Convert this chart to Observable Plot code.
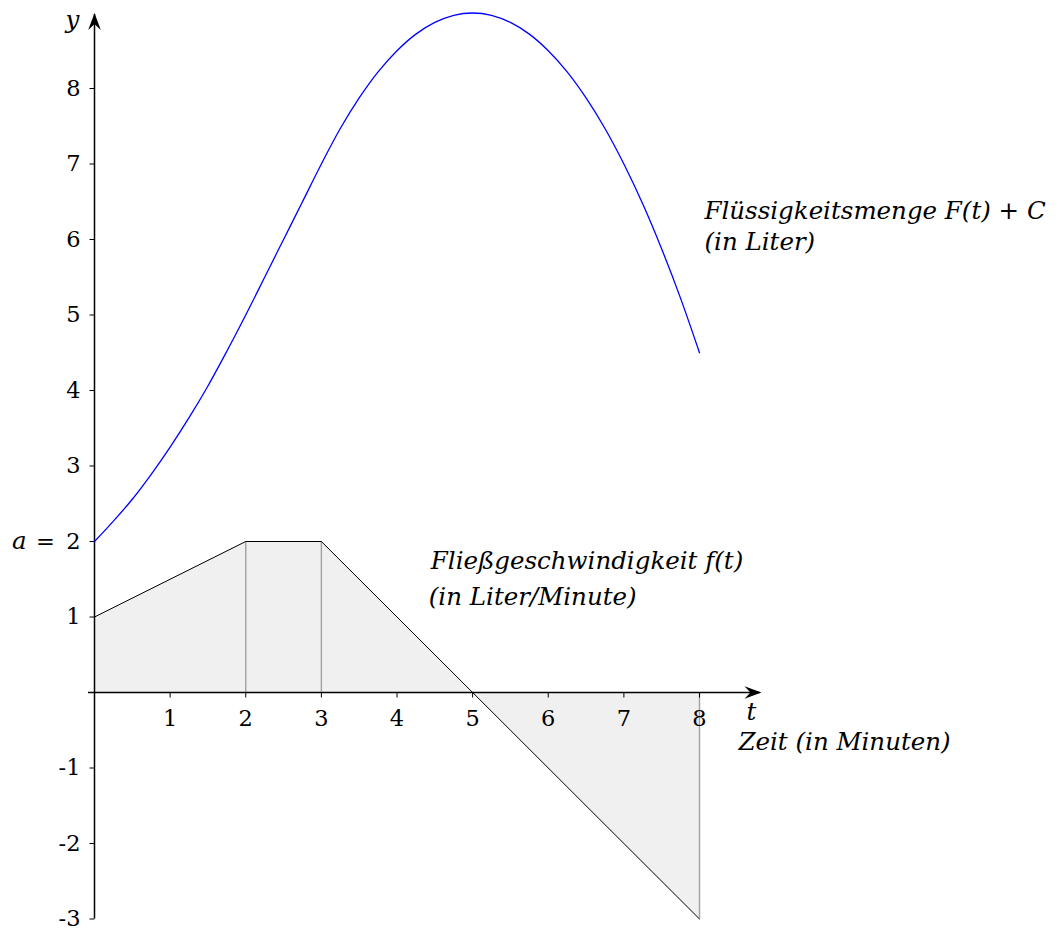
<!DOCTYPE html>
<html><head><meta charset="utf-8">
<script src="https://cdn.jsdelivr.net/npm/d3@7"></script>
<script src="https://cdn.jsdelivr.net/npm/@observablehq/plot@0.6"></script>
<style>body{margin:0;background:#fff}svg{display:block}</style>
</head><body><div id="chart"></div>
<script>
// f(t): Fließgeschwindigkeit (Liter/Minute)
const rateTimes = [0, 2, 3, 5, 8];
const rateValues = [1, 2, 2, 0, -3];
// F(t)+C: Flüssigkeitsmenge (Liter)
const amountTimes = [0,0.25,0.5,0.75,1,1.25,1.5,1.75,2,2.25,2.5,2.75,3,3.25,3.5,3.75,4,4.25,4.5,4.75,5,5.25,5.5,5.75,6,6.25,6.5,6.75,7,7.25,7.5,7.75,8];
const amountValues = [2,2.27,2.56,2.89,3.25,3.64,4.06,4.52,5,5.5,6,6.5,7,7.47,7.875,8.22,8.5,8.72,8.875,8.97,9,8.97,8.875,8.72,8.5,8.22,7.875,7.47,7,6.47,5.875,5.22,4.5];
const dividerTimes = [2, 3, 8];
const xTickValues = [1, 2, 3, 4, 5, 6, 7, 8];
const xTickLabels = ["1","2","3","4","5","6","7","8"];
const yTickValues = [-3, -2, -1, 1, 2, 3, 4, 5, 6, 7, 8];
const yTickLabels = ["-3","-2","-1","1","2","3","4","5","6","7","8"];
const startLabel = "a";
const startValue = 2;

const rate = rateTimes.map((t, i) => ({t, v: rateValues[i]}));
const amount = amountTimes.map((t, i) => ({t, v: amountValues[i]}));
const dividers = rate.filter(d => dividerTimes.includes(d.t));
const yTicks = yTickValues.map((v, i) => ({v, label: yTickLabels[i]}));
const xTicks = xTickValues.map((v, i) => ({v, label: xTickLabels[i]}));

const FONT = "DejaVu Serif";
const FS = 22.5;
const LFS = 24.5;

const tickDown = {draw(c){ c.moveTo(0,0); c.lineTo(0,5); }};
const tickLeft = {draw(c){ c.moveTo(0,0); c.lineTo(-5,0); }};
const arrowHead = {draw(c){ c.moveTo(0,0); c.lineTo(-17,-6.3); c.quadraticCurveTo(-13,-2,-11,0); c.quadraticCurveTo(-13,2,-17,6.3); c.closePath(); }};

const chart = Plot.plot({
  width: 1058,
  height: 931,
  x: {domain: [0, 8], range: [94, 699], axis: null},
  y: {domain: [-3, 9], range: [918.5, 12.5], axis: null},
  style: {fontFamily: FONT, background: "white"},
  marks: [
    Plot.areaY(rate, {x: "t", y1: 0, y2: "v", fill: "#f0f0f0"}),
    Plot.ruleX(dividers, {x: "t", y1: 0, y2: "v", stroke: "#a0a0a0", strokeWidth: 1.4}),
    Plot.line(rate, {x: "t", y: "v", stroke: "black", strokeWidth: 1}),
    // axes
    Plot.ruleY([0], {x1: -0.08, x2: 8.8, stroke: "black", strokeWidth: 1.5}),
    Plot.ruleX([0], {y1: -3, y2: 8.98, stroke: "black", strokeWidth: 1.5}),
    Plot.dot([0], {x: 8.82, y: 0, symbol: arrowHead, fill: "black", stroke: "none"}),
    Plot.dot([0], {x: 0, y: 9.0, symbol: arrowHead, fill: "black", stroke: "none", rotate: -90}),
    Plot.dot(xTicks, {x: "v", y: 0, symbol: tickDown, stroke: "black", fill: "none", strokeWidth: 1}),
    Plot.dot(yTicks, {x: 0, y: "v", symbol: tickLeft, stroke: "black", fill: "none", strokeWidth: 1}),
    Plot.text(xTicks, {x: "v", y: 0, text: "label", dy: 26, fontSize: FS, fill: "black"}),
    Plot.text(yTicks, {x: 0, y: "v", text: "label", dx: -14, textAnchor: "end", fontSize: FS, fill: "black"}),
    Plot.text(["="], {x: 0, y: startValue, text: d => d, dx: -49, fontSize: FS, fill: "black"}),
    Plot.text([startLabel], {x: 0, y: startValue, text: d => d, dx: -68, textAnchor: "end", fontSize: LFS, fontStyle: "italic", fill: "black"}),
    Plot.text(["y"], {x: 0, y: 9, text: d => d, dx: -22, dy: 7, fontSize: LFS, fontStyle: "italic", fill: "black"}),
    Plot.text(["t"], {x: 8.82, y: 0, text: d => d, dx: -10, dy: 20, fontSize: LFS, fontStyle: "italic", fill: "black"}),
    Plot.text(["Zeit (in Minuten)"], {x: 8.0, y: 0, text: d => d, dx: 39, dy: 50, textAnchor: "start", fontSize: LFS, fontStyle: "italic", fill: "black"}),
    Plot.text(["Fließgeschwindigkeit f(t)"], {x: 4.5, y: 1.74, text: d => d, dx: -4, textAnchor: "start", fontSize: LFS, fontStyle: "italic", fill: "black"}),
    Plot.text(["(in Liter/Minute)"], {x: 4.5, y: 1.26, text: d => d, dx: -6, textAnchor: "start", fontSize: LFS, fontStyle: "italic", fill: "black"}),
    Plot.text(["Flüssigkeitsmenge F(t) + C"], {x: 8, y: 6.38, text: d => d, dx: 5, textAnchor: "start", fontSize: LFS, fontStyle: "italic", fill: "black"}),
    Plot.text(["(in Liter)"], {x: 8, y: 5.96, text: d => d, dx: 5, textAnchor: "start", fontSize: LFS, fontStyle: "italic", fill: "black"}),
    Plot.line(amount, {x: "t", y: "v", stroke: "#0000ff", strokeWidth: 1.3, curve: "catmull-rom"})
  ]
});
document.getElementById("chart").append(chart);
</script>
</body></html>
